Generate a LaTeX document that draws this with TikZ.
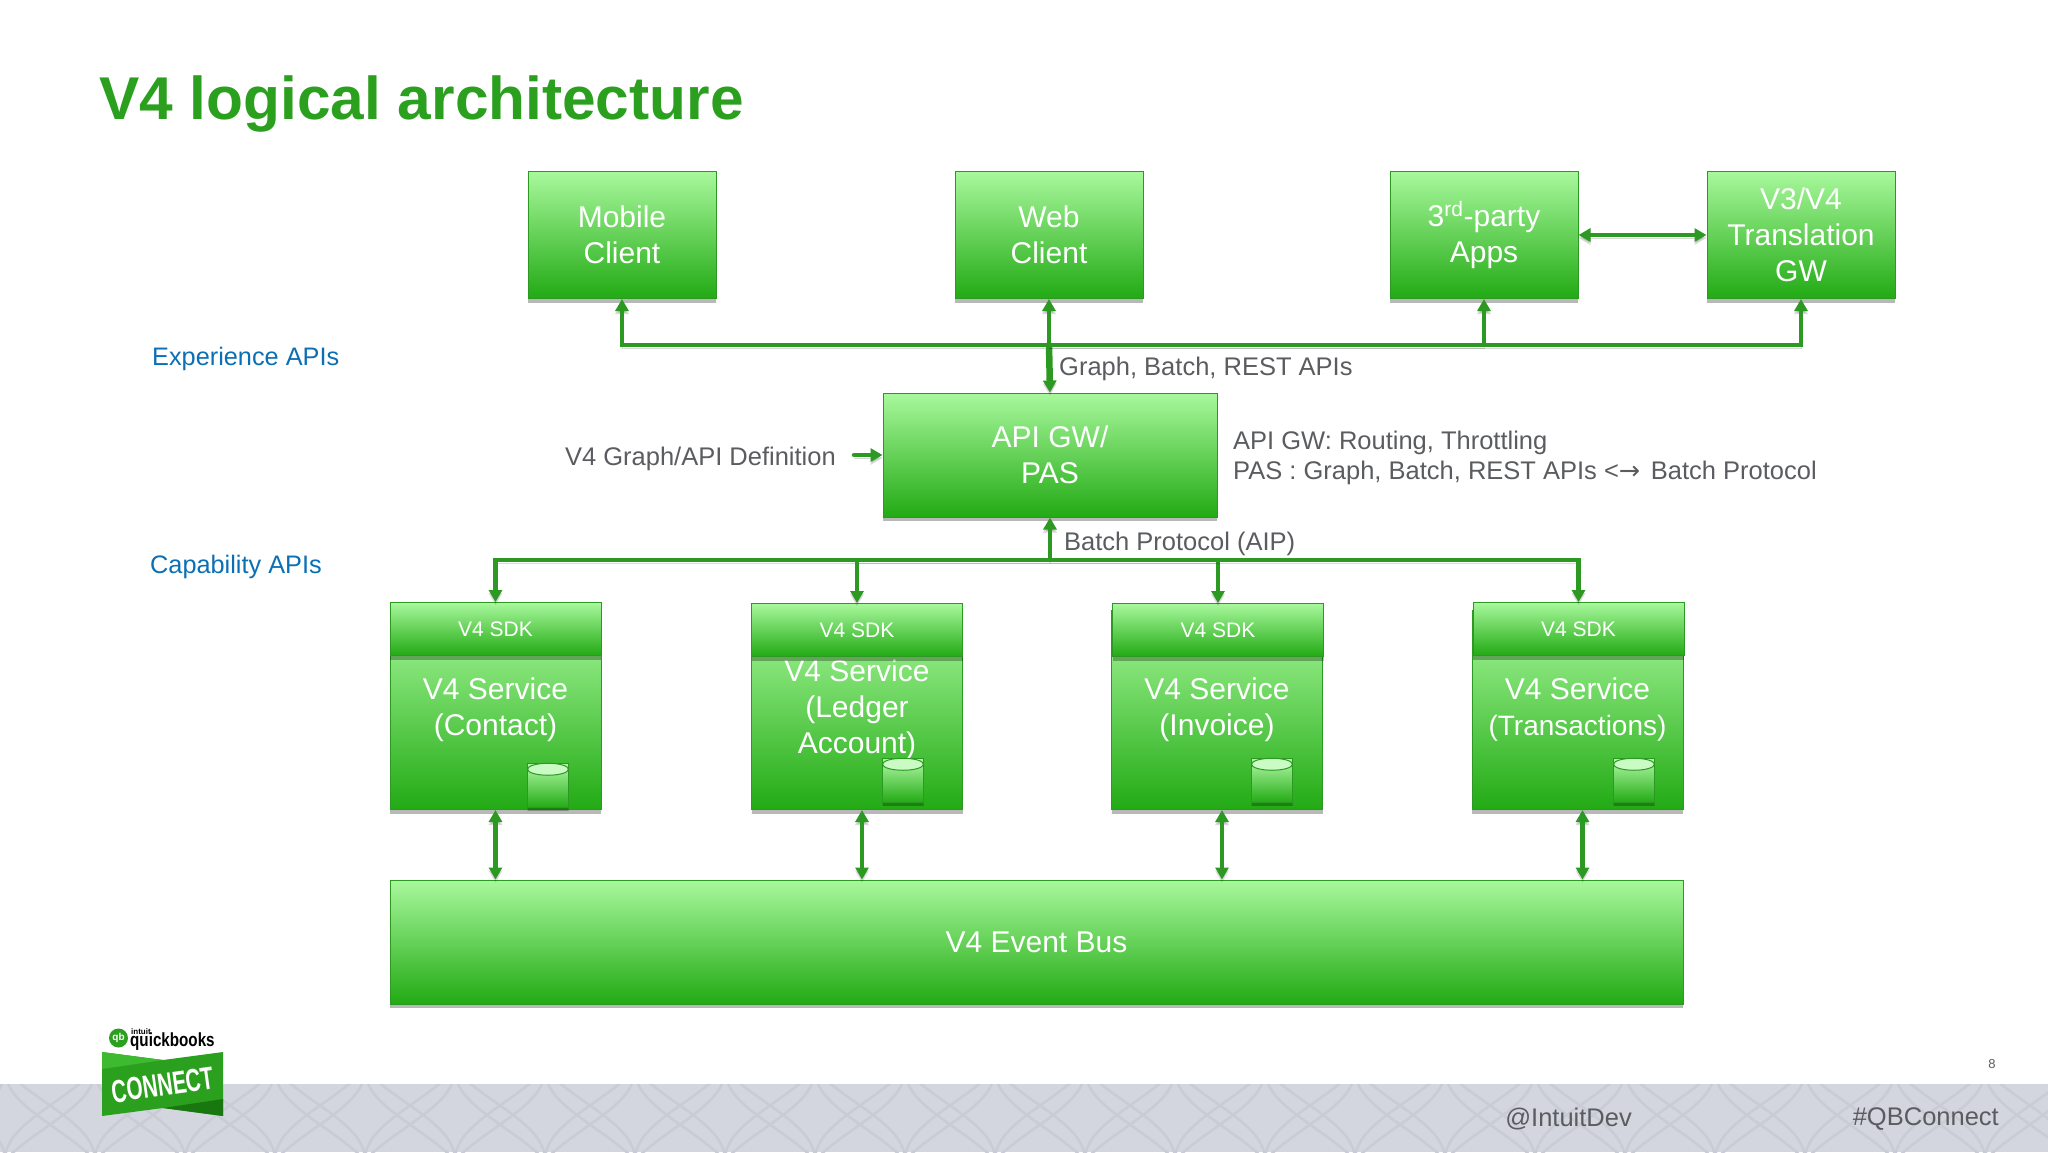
\documentclass[tikz,border=0pt]{standalone}
\usepackage{fontspec}
\setmainfont{Liberation Sans}
\newfontfamily\arrowfont{DejaVu Sans}
\usetikzlibrary{arrows.meta,shadows,shapes.geometric}
\definecolor{lightg}{HTML}{A8F89C}
\definecolor{darkg}{HTML}{22AA14}
\definecolor{lineg}{HTML}{2C9A22}
\definecolor{titleg}{HTML}{2BA01E}
\definecolor{textgray}{HTML}{5A5C60}
\definecolor{apiblue}{HTML}{0B6FB5}
\definecolor{bandgray}{HTML}{D3D6DE}
\definecolor{petal}{HTML}{C9CCD5}

\begin{document}
\begin{tikzpicture}
				[x=1pt, y=-1pt, >={Triangle[length=12pt,width=13pt]},
				main/.style = {draw=lineg, line width=1pt, top color=lightg, bottom color=darkg,
				drop shadow={shadow xshift=0pt, shadow yshift=-4pt, fill=black, opacity=.28},
				text=white, align=center, inner sep=0pt, font=\fontsize{30}{36}\selectfont},
				sdk/.style = {main, minimum width=211pt, minimum height=53pt, font=\fontsize{21}{25}\selectfont},
				service/.style = {main, minimum width=211pt, minimum height=199pt},
				client/.style = {main, minimum width=188pt, minimum height=127pt},
				db/.style = {cylinder, shape border rotate=90, aspect=.5, draw=lineg, line width=1pt,
				top color=lightg!90!white, bottom color=darkg, minimum width=41pt, minimum height=44pt, inner sep=0pt,
				drop shadow={shadow xshift=0pt, shadow yshift=-3pt, fill=black, opacity=.25}},
				dbtop/.style = {draw=lineg, line width=1pt, fill=lightg!60!white},
				link/.style = {draw=lineg, line width=4.5pt, line cap=round,
				preaction={draw=black, opacity=.15, transform canvas={yshift=-3pt}}},
				note/.style = {text=textgray, inner sep=0pt, anchor=west, font=\fontsize{25.5}{30.5}\selectfont},
				layer/.style = {text=apiblue, inner sep=0pt, anchor=west, font=\fontsize{25.3}{31}\selectfont}]
				\useasboundingbox (0,0) rectangle (2048,1152);

				% footer band
				\fill[bandgray] (0,1084) rectangle (2048,1152);
				\begin{scope}
				\clip (0,1084) rectangle (2048,1152);
				\foreach \i in {-1,...,24} {
					\foreach \j in {0,1} {
						\draw[petal, line width=2.5pt] (\i*90+5,\j*90+1070) .. controls (\i*90+5,\j*90+1105) and (\i*90+60,\j*90+1125) .. (\i*90+95,\j*90+1160);
						\draw[petal, line width=2.5pt] (\i*90+5,\j*90+1070) .. controls (\i*90+40,\j*90+1105) and (\i*90+95,\j*90+1125) .. (\i*90+95,\j*90+1160);
						\draw[petal, line width=2.5pt] (\i*90+95,\j*90+1070) .. controls (\i*90+95,\j*90+1105) and (\i*90+40,\j*90+1125) .. (\i*90+5,\j*90+1160);
						\draw[petal, line width=2.5pt] (\i*90+95,\j*90+1070) .. controls (\i*90+60,\j*90+1105) and (\i*90+5,\j*90+1125) .. (\i*90+5,\j*90+1160);
					}
				}
				\end{scope}

				\node[anchor=west, inner sep=0pt, text=titleg, font=\fontsize{60.4}{70}\selectfont\bfseries] (title) at (99,104) {V4 logical architecture};

				\node[client] (mobile) at (622,235) {Mobile\\Client};
				\node[client] (web) at (1049,235) {Web\\Client};
				\node[client] (apps) at (1484,235) {3\textsuperscript{rd}-party\\Apps};
				\node[client] (trans) at (1801,235) {V3/V4\\Translation\\GW};
				\node[main, minimum width=334pt, minimum height=124pt] (api) at (1050,455) {API GW/\\PAS};

				\node[service] (contact) at (495.5,710) {V4 Service\\(Contact)};
				\node[service] (ledger) at (857,710) {V4 Service\\(Ledger\\Account)};
				\node[service] (invoice) at (1217,710) {V4 Service\\(Invoice)};
				\node[service] (txn) at (1577.5,710) {V4 Service\\{\fontsize{28}{36}\selectfont(Transactions)}};
				\node[sdk] (sdka) at (495.5,629) {V4 SDK};
				\node[sdk] (sdkb) at (857,630) {V4 SDK};
				\node[sdk] (sdkc) at (1218,630) {V4 SDK};
				\node[sdk] (sdkd) at (1578.5,629) {V4 SDK};
				\node[main, minimum width=1293pt, minimum height=124pt] (evbus) at (1036.5,942) {V4 Event Bus};

				\node[db] (dba) at (548,786) {};
				\node[db] (dbb) at (903,781) {};
				\node[db] (dbc) at (1272,781) {};
				\node[db] (dbd) at (1634,781) {};
				\draw[dbtop] ([yshift=-6pt]dba.north) ellipse (20.5 and 6);
				\draw[dbtop] ([yshift=-6pt]dbb.north) ellipse (20.5 and 6);
				\draw[dbtop] ([yshift=-6pt]dbc.north) ellipse (20.5 and 6);
				\draw[dbtop] ([yshift=-6pt]dbd.north) ellipse (20.5 and 6);

				\coordinate (topbus) at (1049,345);
				\coordinate (lowbus) at (1050,560);
				\draw[link,->] (topbus) -| (mobile.south);
				\draw[link,->] (topbus) -- (web.south);
				\draw[link,line width=6.5pt,->] (topbus) -- (api.north);
				\draw[link,->] (topbus) -| (apps.south);
				\draw[link,->] (topbus) -| (trans.south);
				\draw[link,<->] (apps.east |- trans) -- (trans.west);

				\draw[link,->] (lowbus) -- (api.south);
				\draw[link,->] (lowbus) -| (sdka.north);
				\draw[link,->] (lowbus) -| (sdkb.north);
				\draw[link,->] (lowbus) -| (sdkc.north);
				\draw[link,->] (lowbus) -| (sdkd.north);

				\draw[link,<->] (contact.south) -- (contact.south |- evbus.north);
				\draw[link,<->] ([xshift=5pt]ledger.south) -- ([xshift=5pt]ledger.south |- evbus.north);
				\draw[link,<->] ([xshift=5pt]invoice.south) -- ([xshift=5pt]invoice.south |- evbus.north);
				\draw[link,<->] ([xshift=5pt]txn.south) -- ([xshift=5pt]txn.south |- evbus.north);

				\node[note] (toplabel) at (1059,369) {Graph, Batch, REST APIs};
				\node[note] (lowlabel) at (1064,544) {Batch Protocol (AIP)};
				\node[note, anchor=east] (graphdef) at (836,459) {V4 Graph/API Definition};
				\draw[link,->] ([xshift=18pt]graphdef.east |- api.west) -- (api.west);
				\node[note, align=left] (apinote) at (1233,458) {API GW: Routing, Throttling\\PAS : Graph, Batch, REST APIs <{\arrowfont→}\kern3.5pt{} Batch Protocol};

				\node[layer] (expapi) at (152,359) {Experience APIs};
				\node[layer] (capapi) at (150,567) {Capability APIs};

				\node[note, anchor=east] (handle) at (1632,1119) {@IntuitDev};
				\node[note, anchor=east] (hash) at (1999,1119) {\#QBConnect};
				\node[inner sep=0pt, text=textgray, font=\fontsize{13}{15}\selectfont] (pageno) at (1992,1064) {8};

				% logo
				\fill[titleg] (102,1052) -- (163,1060) -- (223,1052) -- (223,1116) -- (163,1108) -- (102,1116) -- cycle;
				\fill[darkg!80!lightg] (102,1052) -- (163,1060) -- (102,1069) -- cycle;
				\fill[darkg!70!black] (163,1108) -- (223,1099) -- (223,1116) -- cycle;
				\node[inner sep=0pt, rotate=8, text=white, font=\fontsize{32}{34}\selectfont\bfseries] (connect) at (163,1085) {\scalebox{.65}[1]{CONNECT}};
				\node[circle, fill=titleg, text=white, inner sep=0pt, minimum size=19pt, font=\fontsize{10}{10}\selectfont\bfseries] (qb) at (118.5,1038) {qb};
				\node[anchor=west, inner sep=0pt, font=\fontsize{19}{20}\selectfont\bfseries] (qbtext) at (130,1042) {\scalebox{.8}[1]{quickbooks}};
				\node[anchor=west, inner sep=0pt, font=\fontsize{8}{8}\selectfont\bfseries] (intuit) at (131,1032) {intuit};
			\end{tikzpicture}
\end{document}
